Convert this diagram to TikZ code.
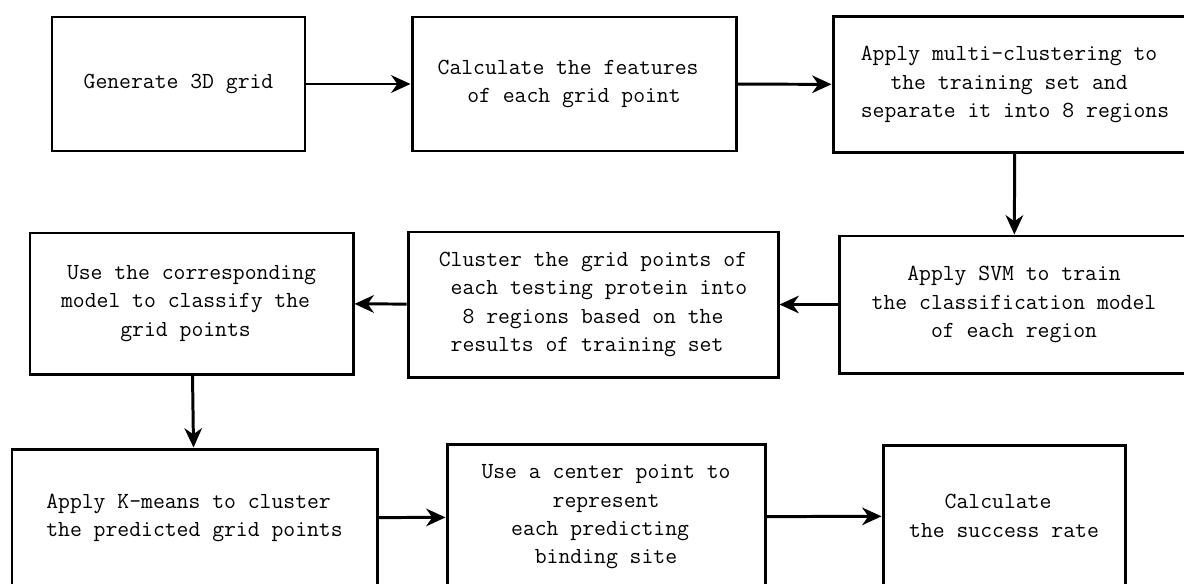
\documentclass[tikz,border=0pt]{standalone}
\usetikzlibrary{arrows.meta}
\tikzset{box/.style={draw, line width=1.7pt, inner sep=0pt, align=center,
    font=\ttfamily\fontsize{13.1}{16.1}\selectfont},
  flow/.style={line width=1.7pt, -{Stealth[length=11pt,width=10pt,inset=3.5pt]}}}
\newcommand{\pad}{\hphantom{x}}

\begin{document}
\begin{tikzpicture}
\useasboundingbox (0,0) rectangle (23.68,-11.66);
\clip (0,0) rectangle (23.68,-11.66);

% first row
\node[box, minimum width=5.06cm, minimum height=2.68cm] (grid) at (3.57,-1.68) {Generate 3D grid};
\node[box, minimum width=6.48cm, minimum height=2.68cm] (feat) at (11.48,-1.68) {Calculate the features\pad\\of each grid point};
\node[box, minimum width=7.28cm, minimum height=2.71cm] (multi) at (20.30,-1.69) {Apply multi-clustering to\pad\\the training set and\pad\\separate it into 8 regions};

% second row
\node[box, minimum width=7.00cm, minimum height=2.74cm] (svm) at (20.28,-6.09) {Apply SVM to train\\the classification model\\of each region};
\node[box, minimum width=7.40cm, minimum height=2.90cm] (clust) at (11.86,-6.09) {Cluster the grid points of\\\pad each testing protein into\\8 regions based on the\\results of training set\pad};
\node[box, minimum width=6.46cm, minimum height=2.82cm] (classify) at (3.83,-6.07) {Use the corresponding\\model to classify the\pad\\grid points\pad};

% third row (cut at the bottom)
\node[box, minimum width=7.30cm, minimum height=2.76cm] (kmeans) at (3.89,-10.36) {Apply K-means to cluster\pad\\the predicted grid points};
\node[box, minimum width=6.36cm, minimum height=2.92cm] (center) at (12.12,-10.34) {Use a center point to\\represent\\each predicting\pad\\binding site};
\node[box, minimum width=4.84cm, minimum height=2.84cm] (rate) at (20.08,-10.32) {Calculate\pad\\the success rate};

\draw[flow] (grid) -- (feat);
\draw[flow] (feat) -- (multi);
\draw[flow] (multi) -- (svm);
\draw[flow] (svm) -- (clust);
\draw[flow] (clust) -- (classify);
\draw[flow] (classify) -- (kmeans);
\draw[flow] (kmeans) -- (center);
\draw[flow] (center) -- (rate);
\end{tikzpicture}
\end{document}
